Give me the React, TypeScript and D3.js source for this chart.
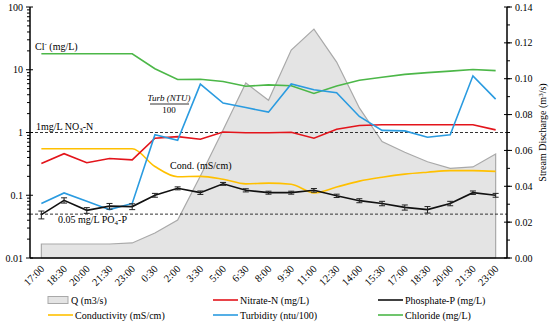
import React, { useEffect, useRef } from 'react';
import * as d3 from 'd3';

const times = ['17:00', '18:30', '20:00', '21:30', '23:00', '0:30', '2:00', '3:30', '5:00', '6:30', '8:00',
    '9:30', '11:00', '12:30', '14:00', '15:30', '17:00', '18:30', '20:00', '21:30', '23:00'];

// stream discharge, m3/s (right axis)
const discharge = [0.0078, 0.0078, 0.0078, 0.0078, 0.0084, 0.0139, 0.0212, 0.0457, 0.0714, 0.0976, 0.088,
    0.116, 0.1277, 0.1093, 0.0837, 0.065, 0.059, 0.0537, 0.05, 0.0508, 0.058];

const nitrate = [0.32, 0.46, 0.33, 0.385, 0.367, 0.81, 0.86, 0.78, 1.02, 0.99, 0.99, 1.01, 0.81, 1.13, 1.29,
    1.33, 1.33, 1.33, 1.33, 1.33, 1.1];

const phosphate = [0.049, 0.083, 0.0575, 0.067, 0.066, 0.1, 0.129, 0.11, 0.152, 0.12, 0.11, 0.11, 0.12, 0.098,
    0.082, 0.074, 0.064, 0.059, 0.074, 0.11, 0.1];
const phosphateErr = [0.007, 0.008, 0.006, 0.007, 0.007, 0.007, 0.007, 0.007, 0.008, 0.007, 0.006, 0.006,
    0.008, 0.006, 0.006, 0.006, 0.006, 0.007, 0.006, 0.007, 0.007];

const conductivity = [0.55, 0.55, 0.55, 0.55, 0.55, 0.287, 0.197, 0.2, 0.18, 0.152, 0.156, 0.15, 0.109, 0.135,
    0.168, 0.194, 0.217, 0.233, 0.247, 0.247, 0.24];

const turbidity = [0.074, 0.109, 0.08, 0.059, 0.074, 0.92, 0.75, 5.9, 2.94, 2.5, 2.11, 5.95, 4.8, 4.3, 1.8,
    1.08, 1.06, 0.84, 0.92, 8.0, 3.4];

const chloride = [18, 18, 18, 18, 18, 10.4, 7.0, 7.05, 6.5, 5.45, 5.75, 5.55, 4.2, 5.5, 6.8, 7.6, 8.45, 9.0,
    9.5, 10.1, 9.7];

const leftTicks = [0.01, 0.1, 1, 10, 100];
const rightTicks = [0, 0.02, 0.04, 0.06, 0.08, 0.1, 0.12, 0.14];

const FONT = '"Liberation Serif", "Times New Roman", serif';

const App = () => {
    const chartRef = useRef(null);

    useEffect(() => {
        drawChart();
    }, []);

    const drawChart = () => {
        const el = chartRef.current;
        d3.select(el).selectAll('*').remove();

        const svg = d3.select(el)
            .attr('width', 550)
            .attr('height', 325)
            .style('font-family', FONT);

        const left = 30, right = 507, top = 7, bottom = 258;

        const x = d3.scalePoint()
            .domain(times.map((d, i) => i))
            .range([left, right])
            .padding(0.5);

        const y = d3.scaleLog().domain([0.01, 100]).range([bottom, top]);
        const yQ = d3.scaleLinear().domain([0, 0.14]).range([bottom, top]);

        // discharge area
        const area = d3.area()
            .x((d, i) => x(i))
            .y0(bottom)
            .y1(d => yQ(d));
        svg.append('path')
            .datum(discharge)
            .attr('d', area)
            .attr('fill', '#e4e4e4')
            .attr('stroke', '#a9a9a9')
            .attr('stroke-width', 1.2);

        // guideline values
        [1, 0.05].forEach(v => {
            svg.append('line')
                .attr('x1', left).attr('x2', right)
                .attr('y1', y(v)).attr('y2', y(v))
                .attr('stroke', '#333')
                .attr('stroke-width', 1)
                .attr('stroke-dasharray', '3,2');
        });

        const line = d3.line()
            .x((d, i) => x(i))
            .y(d => y(d));

        const series = [
            { values: chloride, color: '#4cb748', curve: d3.curveLinear },
            { values: conductivity, color: '#ffc000', curve: d3.curveMonotoneX },
            { values: nitrate, color: '#e3141b', curve: d3.curveLinear },
            { values: turbidity, color: '#2a9be0', curve: d3.curveLinear },
            { values: phosphate, color: '#111', curve: d3.curveLinear },
        ];

        series.forEach(s => {
            svg.append('path')
                .datum(s.values)
                .attr('d', line.curve(s.curve))
                .attr('fill', 'none')
                .attr('stroke', s.color)
                .attr('stroke-width', 1.6);
        });

        // phosphate error bars
        const bars = svg.append('g').attr('stroke', '#222').attr('stroke-width', 1);
        phosphate.forEach((v, i) => {
            const y1 = y(v + phosphateErr[i]);
            const y2 = y(v - phosphateErr[i]);
            bars.append('line').attr('x1', x(i)).attr('x2', x(i)).attr('y1', y1).attr('y2', y2);
            bars.append('line').attr('x1', x(i) - 3).attr('x2', x(i) + 3).attr('y1', y1).attr('y2', y1);
            bars.append('line').attr('x1', x(i) - 3).attr('x2', x(i) + 3).attr('y1', y2).attr('y2', y2);
        });

        // axes frame
        const ax = svg.append('g').attr('stroke', '#000');
        ax.append('line').attr('x1', left).attr('x2', left).attr('y1', top).attr('y2', bottom).attr('stroke-width', 1.5);
        ax.append('line').attr('x1', left).attr('x2', right).attr('y1', bottom).attr('y2', bottom).attr('stroke-width', 1.5);
        ax.append('line').attr('x1', right).attr('x2', right).attr('y1', top).attr('y2', bottom).attr('stroke-width', 1.5);

        // left log axis
        const minor = [];
        leftTicks.slice(0, -1).forEach(t => {
            for (let k = 2; k <= 9; k++) minor.push(t * k);
        });
        minor.forEach(v => {
            ax.append('line').attr('x1', left - 3).attr('x2', left).attr('y1', y(v)).attr('y2', y(v)).attr('stroke-width', 1);
        });
        leftTicks.forEach(v => {
            ax.append('line').attr('x1', left - 4).attr('x2', left + 3).attr('y1', y(v)).attr('y2', y(v)).attr('stroke-width', 1);
            svg.append('text')
                .attr('x', 23).attr('y', y(v)).attr('dy', '0.35em')
                .attr('text-anchor', 'end')
                .attr('font-size', 10)
                .text(d3.format('~g')(v));
        });

        // right linear axis
        d3.range(0, 0.1401, 0.01).forEach(v => {
            ax.append('line').attr('x1', right).attr('x2', right + 3).attr('y1', yQ(v)).attr('y2', yQ(v)).attr('stroke-width', 1);
        });
        rightTicks.forEach(v => {
            ax.append('line').attr('x1', right - 3).attr('x2', right + 5).attr('y1', yQ(v)).attr('y2', yQ(v)).attr('stroke-width', 1);
            svg.append('text')
                .attr('x', 515).attr('y', yQ(v)).attr('dy', '0.35em')
                .attr('font-size', 10)
                .text(d3.format('.2f')(v));
        });
        svg.append('text')
            .attr('transform', `translate(546,${(top + bottom) / 2}) rotate(-90)`)
            .attr('text-anchor', 'middle')
            .attr('font-size', 10)
            .html('Stream Discharge (m<tspan dy="-3" font-size="7">3</tspan><tspan dy="3">/s)</tspan>');

        // x labels
        times.forEach((t, i) => {
            svg.append('text')
                .attr('transform', `translate(${x(i) + 1},${bottom + 9}) rotate(-45)`)
                .attr('text-anchor', 'end')
                .attr('dy', '0.35em')
                .attr('font-size', 10.5)
                .text(t);
        });

        // annotations
        const note = (xp, yp, html, extra = {}) => {
            const t = svg.append('text').attr('x', xp).attr('y', yp).attr('font-size', 10).html(html);
            Object.entries(extra).forEach(([k, v]) => t.attr(k, v));
            return t;
        };
        note(35, 50, 'Cl<tspan dy="-4" font-size="7">-</tspan><tspan dy="4"> (mg/L)</tspan>');
        note(36, 130, '1mg/L NO<tspan dy="2" font-size="7">3</tspan><tspan dy="-2">-N</tspan>');
        note(58, 223, '0.05 mg/L PO<tspan dy="2" font-size="7">4</tspan><tspan dy="-2">-P</tspan>');
        note(170, 169, 'Cond. (mS/cm)');
        note(169, 101, 'Turb (NTU)', { 'text-anchor': 'middle', 'font-style': 'italic', 'font-size': 9 });
        svg.append('line').attr('x1', 150).attr('x2', 189).attr('y1', 104).attr('y2', 104).attr('stroke', '#000').attr('stroke-width', 0.8);
        note(169, 113, '100', { 'text-anchor': 'middle', 'font-size': 9 });

        // legend
        const legend = svg.append('g').attr('font-size', 10);
        const items = [
            { label: 'Q (m3/s)', color: null, lx: 48, ly: 300 },
            { label: 'Nitrate-N (mg/L)', color: '#e3141b', lx: 213, ly: 300 },
            { label: 'Phosphate-P (mg/L)', color: '#111', lx: 378, ly: 300 },
            { label: 'Conductivity (mS/cm)', color: '#ffc000', lx: 48, ly: 315 },
            { label: 'Turbidity (ntu/100)', color: '#2a9be0', lx: 213, ly: 315 },
            { label: 'Chloride (mg/L)', color: '#4cb748', lx: 378, ly: 315 },
        ];
        items.forEach(it => {
            if (it.color) {
                legend.append('line')
                    .attr('x1', it.lx).attr('x2', it.lx + 25)
                    .attr('y1', it.ly).attr('y2', it.ly)
                    .attr('stroke', it.color).attr('stroke-width', 1.6);
            } else {
                legend.append('rect')
                    .attr('x', it.lx).attr('y', it.ly - 3.5)
                    .attr('width', 20).attr('height', 7)
                    .attr('fill', '#e4e4e4').attr('stroke', '#a9a9a9');
            }
            legend.append('text')
                .attr('x', it.color ? it.lx + 27 : it.lx + 23)
                .attr('y', it.ly).attr('dy', '0.35em')
                .text(it.label);
        });
    };

    return <svg ref={chartRef} style={{ display: 'block', position: 'absolute', left: 0, top: 0 }} />;
};

export default App;
